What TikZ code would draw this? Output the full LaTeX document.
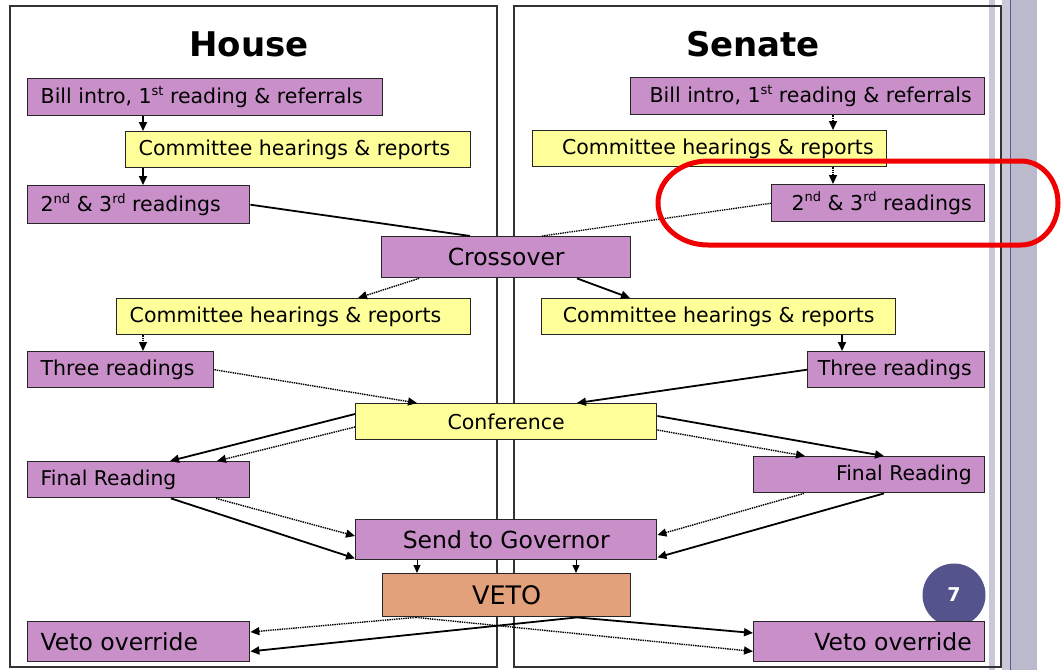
\documentclass[tikz,border=0pt]{standalone}
\usepackage{fontspec}
\setmainfont{DejaVu Sans}
\usetikzlibrary{arrows.meta}
\definecolor{bp}{RGB}{201,143,201}
\definecolor{by}{RGB}{255,255,153}
\definecolor{bv}{RGB}{226,161,122}
\definecolor{numc}{RGB}{85,83,140}
\definecolor{lav}{RGB}{186,186,204}
\definecolor{lavl}{RGB}{200,200,216}
\definecolor{lavd}{RGB}{90,90,140}
\definecolor{hl}{RGB}{240,0,0}
\newcommand{\supr}[1]{\raisebox{0.4em}{\fontsize{13}{13}\selectfont #1}}
\newcommand{\fstd}{\fontsize{20.5}{24}\selectfont}
\newcommand{\fbig}{\fontsize{23.5}{27}\selectfont}
\newcommand{\fveto}{\fontsize{25.5}{29}\selectfont}
\newcommand{\fsml}{\fontsize{20.3}{24}\selectfont}
\begin{document}
\begin{tikzpicture}[x=1pt,y=-1pt,
 bx/.style={draw=black!85, line width=1.4pt, anchor=north west, inner xsep=13pt, inner ysep=0pt, font=\fstd},
 pur/.style={bx, fill=bp}, yel/.style={bx, fill=by}, vet/.style={bx, fill=bv},
 solidarr/.style={line width=1.8pt, -{Triangle[length=9pt,width=8pt]}},
 thinarr/.style={line width=1pt, -{Triangle[length=8pt,width=7pt]}},
 dotarr/.style={line width=1.4pt, dash pattern=on 1.4pt off 0.9pt, -{Triangle[length=9pt,width=8pt]}},
 solidln/.style={line width=1.8pt},
 dotln/.style={line width=1.3pt, dash pattern=on 1.4pt off 0.9pt},
 panel/.style={draw=black!80, line width=1.3pt},
 title/.style={font=\fontsize{34}{40}\selectfont\bfseries, anchor=base}
]
\path[use as bounding box] (0,0) rectangle (1061,670);
\fill[white] (0,0) rectangle (1061,670);
% side stripes
\fill[lavl] (989,0) rectangle (995,670);
\fill[lavl] (1002,0) rectangle (1010,670);
\fill[lav] (1011,0) rectangle (1037,670);
\draw[lavd, line width=0.8pt] (1010,0) -- (1010,670);
% panels
\draw[panel] (10,6) rectangle (497,667);
\draw[panel] (514,6) rectangle (1001,667);
% titles
\node[title] (thouse) at (249,56) {House};
\node[title] (tsenate) at (753,56) {Senate};
% page number
\node[circle, fill=numc, minimum size=63pt, inner sep=0pt, text=white,
      font=\fontsize{19}{19}\selectfont\bfseries] (pg) at (954,595) {7};
% boxes
\node[pur, minimum height=37pt] (H1) at (27,78) {\makebox[329pt][l]{Bill intro, 1\supr{st} reading \& referrals}};
\node[yel, minimum height=36pt] (H2) at (125,131) {\makebox[319pt][l]{Committee hearings \& reports}};
\node[pur, minimum height=38pt] (H3) at (27,185) {\makebox[196pt][l]{2\supr{nd} \& 3\supr{rd} readings}};
\node[pur, minimum height=37pt] (S1) at (630,77) {\makebox[328pt][r]{Bill intro, 1\supr{st} reading \& referrals}};
\node[yel, minimum height=36pt] (S2) at (532,130) {\makebox[328pt][r]{Committee hearings \& reports}};
\node[pur, minimum height=37pt] (S3) at (771,184) {\makebox[187pt][r]{2\supr{nd} \& 3\supr{rd} readings}};
\node[pur, minimum height=41pt, font=\fbig] (CR) at (381,236) {\makebox[223pt][c]{Crossover}};
\node[yel, minimum height=36pt] (HC) at (116,298) {\makebox[328pt][l]{Committee hearings \& reports}};
\node[yel, minimum height=36pt] (SC) at (541,298) {\makebox[328pt][c]{Committee hearings \& reports}};
\node[pur, minimum height=36pt] (HT) at (27,351) {\makebox[160pt][l]{Three readings}};
\node[pur, minimum height=36pt] (ST) at (807,351) {\makebox[151pt][r]{Three readings}};
\node[yel, minimum height=36pt] (CF) at (355,403) {\makebox[275pt][c]{Conference}};
\node[pur, minimum height=36pt, font=\fsml] (HF) at (27,461) {\makebox[196pt][l]{Final Reading}};
\node[pur, minimum height=36pt, font=\fsml] (SF) at (753,456) {\makebox[205pt][r]{Final Reading}};
\node[pur, minimum height=40pt, font=\fbig] (SG) at (355,519) {\makebox[275pt][c]{Send to Governor}};
\node[vet, minimum height=43pt, font=\fveto] (VE) at (382,573) {\makebox[222pt][c]{VETO}};
\node[pur, minimum height=40pt, font=\fbig] (HV) at (27,621) {\makebox[196pt][l]{Veto override}};
\node[pur, minimum height=40pt, font=\fbig] (SV) at (753,621) {\makebox[205pt][r]{Veto override}};
% connectors - top
\draw[solidarr] ([xshift=116pt]H1.south west) -- ([xshift=18pt]H2.north west);
\draw[solidarr] ([xshift=18pt]H2.south west) -- ([xshift=116pt]H3.north west);
\draw[solidln] (H3.east) -- ([xshift=89pt]CR.north west);
\draw[dotarr] ([xshift=203pt]S1.south west) -- ([xshift=301pt]S2.north west);
\draw[dotarr] ([xshift=301pt]S2.south west) -- ([xshift=62pt]S3.north west);
\draw[dotln] (S3.west) -- ([xshift=161pt]CR.north west);
% crossover
\draw[dotarr] ([xshift=38pt]CR.south west) -- ([xshift=242pt]HC.north west);
\draw[solidarr] ([xshift=196pt]CR.south west) -- ([xshift=89pt]SC.north west);
\draw[dotarr] ([xshift=27pt]HC.south west) -- ([xshift=116pt]HT.north west);
\draw[solidarr] ([xshift=301pt]SC.south west) -- ([xshift=35pt]ST.north west);
% to conference
\draw[dotarr] (HT.east) -- ([xshift=62pt]CF.north west);
\draw[solidarr] (ST.west) -- ([xshift=222pt]CF.north west);
% conference to final readings
\draw[solidarr] ([yshift=-11pt]CF.north west) -- ([xshift=143pt]HF.north west);
\draw[dotarr] ([yshift=-24pt]CF.north west) -- ([xshift=190pt]HF.north west);
\draw[solidarr] ([yshift=-13pt]CF.north east) -- ([xshift=131pt]SF.north west);
\draw[dotarr] ([yshift=-27pt]CF.north east) -- ([xshift=52pt]SF.north west);
% final readings to governor
\draw[solidarr] ([xshift=144pt]HF.south west) -- ([yshift=2pt]SG.south west);
\draw[dotarr] ([xshift=189pt]HF.south west) -- ([yshift=-17pt]SG.north west);
\draw[solidarr] ([xshift=131pt]SF.south west) -- ([yshift=3pt]SG.south east);
\draw[dotarr] ([xshift=51pt]SF.south west) -- ([yshift=-16pt]SG.north east);
% governor to veto
\draw[thinarr] ([xshift=62pt]SG.south west) -- ([xshift=35pt]VE.north west);
\draw[thinarr] ([xshift=221pt]SG.south west) -- ([xshift=194pt]VE.north west);
% veto to overrides
\draw[dotarr] ([xshift=34pt]VE.south west) -- ([yshift=-11pt]HV.north east);
\draw[solidarr] ([xshift=195pt]VE.south west) -- ([yshift=11pt]HV.south east);
\draw[solidarr] ([xshift=195pt]VE.south west) -- ([yshift=-12pt]SV.north west);
\draw[dotarr] ([xshift=34pt]VE.south west) -- ([yshift=11pt]SV.south west);
% red highlight
\draw[hl, line width=5pt] (708,161) -- (1021,161)
  arc[start angle=-90, end angle=90, x radius=37, y radius=42] -- (708,245)
  arc[start angle=90, end angle=270, x radius=50, y radius=42] -- cycle;
\end{tikzpicture}
\end{document}
